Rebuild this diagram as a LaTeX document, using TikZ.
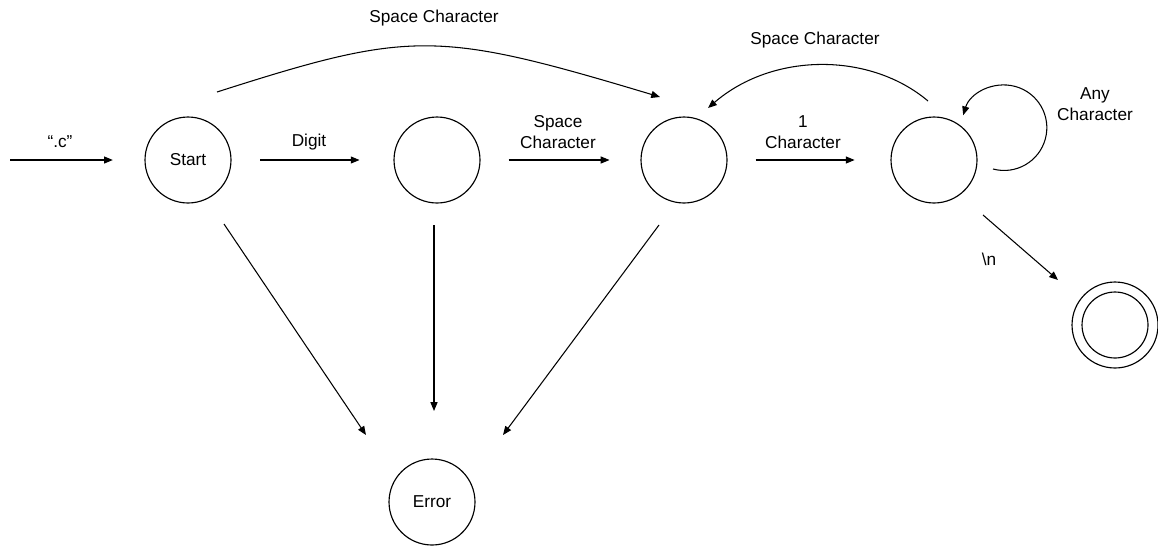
\documentclass[tikz,border=0pt]{standalone}
\usepackage{fontspec}
\setmainfont{Liberation Sans}
\usetikzlibrary{arrows.meta,calc}
\begin{document}
\begin{tikzpicture}[x=0.02cm,y=-0.02cm,
  every node/.style={font=\fontsize{9.8}{11.9}\selectfont},
  state/.style={draw,circle,line width=0.65pt,minimum size=1.72cm,inner sep=0pt},
  edge/.style={line width=0.6pt,-{Triangle[length=5pt,width=4pt]}},
  lbl/.style={align=center,inner sep=0pt}]
\useasboundingbox (0,0) rectangle (1158,545);

% states
\node[state] (s)  at (188,160) {Start};
\node[state] (q2) at (437,160) {};
\node[state] (q3) at (684,160) {};
\node[state] (q4) at (934,160) {};
\node[state] (err) at (432,502) {Error};
\node[state] (acc) at (1115,325) {};
\node[state,minimum size=1.32cm] (accin) at (1115,325) {};

% entry arrow
\coordinate (in) at (10,160);
\draw[edge,shorten >=18pt] (in) -- (s);
\node[lbl] (lin) at (60,142) {“.c”};

% forward chain
\draw[edge,shorten <=16.4pt,shorten >=19.3pt] (s) -- (q2);
\node[lbl] (ldigit) at (309,142) {Digit};
\draw[edge,shorten <=15.9pt,shorten >=17.6pt] (q2) -- (q3);
\node[lbl] (lsp1) at (558,132) {Space\\Character};
\draw[edge,shorten <=15.9pt,shorten >=20.4pt] (q3) -- (q4);
\node[lbl] (lone) at (803,132) {1\\Character};

% skip from start over the digit state
\draw[edge] ($(s)+(29,-68)$) .. controls (411,30) and (437,30) .. ($(q3)+(-24,-63)$);
\node[lbl] (lsp2) at (434,18) {Space Character};

% back edge
\draw[edge] ($(q4)+(-6,-59)$) .. controls (870,52) and (773,52) .. ($(q3)+(24,-52)$);
\node[lbl] (lsp3) at (815,40) {Space Character};

% self loop
\draw[edge] ($(q4)+(59,9)$) arc[start angle=105,end angle=-163,radius=42.75];
\node[lbl] (lany) at (1095,104) {Any\\Character};

% newline to accepting state
\draw[edge] ($(q4)+(49,55)$) -- ($(acc)+(-57,-45)$);
\node[lbl] (lnl) at (989,259) {\textbackslash n};

% error transitions
\draw[edge] ($(s)+(36,64)$) -- ($(err)+(-66,-67)$);
\draw[edge] ($(q2)+(-3,65)$) -- ($(err)+(2,-91)$);
\draw[edge] ($(q3)+(-25,65)$) -- ($(err)+(71,-67)$);
\end{tikzpicture}
\end{document}
